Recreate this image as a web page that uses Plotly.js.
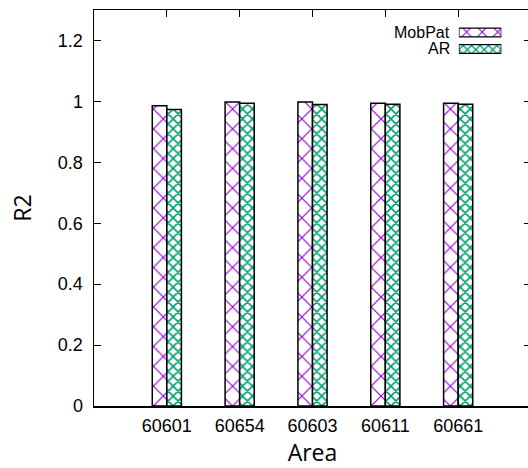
<!DOCTYPE html>
<html>
<head>
<meta charset="utf-8">
<script src="https://cdn.plot.ly/plotly-3.0.1.min.js"></script>
<style>
  html, body { margin: 0; padding: 0; overflow: hidden; background: #fff; }
  #chart { width: 545px; height: 468px; }
</style>
</head>
<body>
<div id="chart"></div>
<script>
// R2 of each model per area
const areas = ['60601', '60654', '60603', '60611', '60661'];
const mobPat = [0.986, 0.998, 0.998, 0.994, 0.994];
const arModel = [0.973, 0.994, 0.990, 0.991, 0.991];
const yTicks = [0, 0.2, 0.4, 0.6, 0.8, 1, 1.2];
const seriesNames = ['MobPat', 'AR'];

const W = 545, H = 468;
const purple = '#9400d3';
const green = '#009e73';
const sansFont = 'Liberation Sans, Arial, sans-serif';
const tickFont = { family: sansFont, size: 18, color: '#000' };
const titleFont = { family: 'Open Sans, sans-serif', size: 23, color: '#000' };

const idx = areas.map((_, i) => i);

const patMob = { shape: 'x', fgcolor: purple, bgcolor: '#fff', size: 14, solidity: 0.16 };
const patAR = { shape: 'x', fgcolor: green, bgcolor: '#fff', size: 7, solidity: 0.4 };

// legend rows: vertical centres (px from top) and swatch extent
const legendRowY = [26.5, 46];
const legendStep = legendRowY[1] - legendRowY[0];
const swatchX = [455, 508];
const textRight = 445;

const traces = [
  {
    type: 'bar', name: seriesNames[0], x: idx, y: mobPat, offset: -0.2, width: 0.2,
    marker: { color: '#fff', pattern: patMob, line: { color: '#000', width: 1.5 } },
    showlegend: false, hoverinfo: 'skip'
  },
  {
    type: 'bar', name: seriesNames[1], x: idx, y: arModel, offset: 0, width: 0.2,
    marker: { color: '#fff', pattern: patAR, line: { color: '#000', width: 1.5 } },
    showlegend: false, hoverinfo: 'skip'
  },
  // legend swatches, drawn on their own small axes
  {
    type: 'bar', orientation: 'h', x: [1, 1], y: [0, 1], xaxis: 'x2', yaxis: 'y2',
    width: [0.53, 0.53],
    marker: { color: '#fff',
              pattern: { shape: ['x', 'x'], fgcolor: [purple, green], bgcolor: '#fff', size: [11, 6], solidity: [0.18, 0.4] },
              line: { color: '#000', width: 1.3 } },
    showlegend: false, hoverinfo: 'skip'
  }
];

// y2 spans [-0.5, 1.5] (reversed) so that rows 0 and 1 land on legendRowY
const y2Top = legendRowY[0] - 0.5 * legendStep;
const y2Bottom = legendRowY[1] + 0.5 * legendStep;

const layout = {
  width: W, height: H,
  margin: { l: 94, r: 14, t: 10, b: 62 },
  paper_bgcolor: '#fff', plot_bgcolor: '#fff',
  showlegend: false,
  bargap: 0,
  xaxis: {
    range: [-1, 5], tickmode: 'array', tickvals: idx, ticktext: areas,
    ticks: 'inside', ticklen: 7, tickwidth: 1, tickcolor: '#000',
    showline: true, linecolor: '#000', linewidth: 1.5, mirror: 'ticks',
    showgrid: false, zeroline: false, tickfont: tickFont,
    ticklabelstandoff: 3,
    title: { text: 'Area', font: titleFont, standoff: 3 }
  },
  yaxis: {
    range: [0, 1.3], tickmode: 'array', tickvals: yTicks,
    ticks: 'inside', ticklen: 7, tickwidth: 1, tickcolor: '#000',
    showline: true, linecolor: '#000', linewidth: 1.5, mirror: 'ticks',
    showgrid: false, zeroline: false, tickfont: tickFont,
    ticklabelstandoff: 6,
    title: { text: 'R2', font: titleFont, standoff: 20 }
  },
  xaxis2: { domain: [swatchX[0] / W, swatchX[1] / W], range: [0, 1], anchor: 'y2', visible: false, fixedrange: true },
  yaxis2: { domain: [(H - y2Bottom) / H, (H - y2Top) / H], range: [1.5, -0.5], anchor: 'x2', visible: false, fixedrange: true },
  annotations: seriesNames.map((n, i) => ({
    xref: 'paper', yref: 'paper', x: textRight / W, y: (H - legendRowY[i]) / H,
    xanchor: 'right', yanchor: 'middle', showarrow: false,
    borderpad: 0,
    text: n, font: { family: sansFont, size: 16, color: '#000' }
  }))
};

Plotly.newPlot('chart', traces, layout, { displayModeBar: false, staticPlot: true });
</script>
</body>
</html>
